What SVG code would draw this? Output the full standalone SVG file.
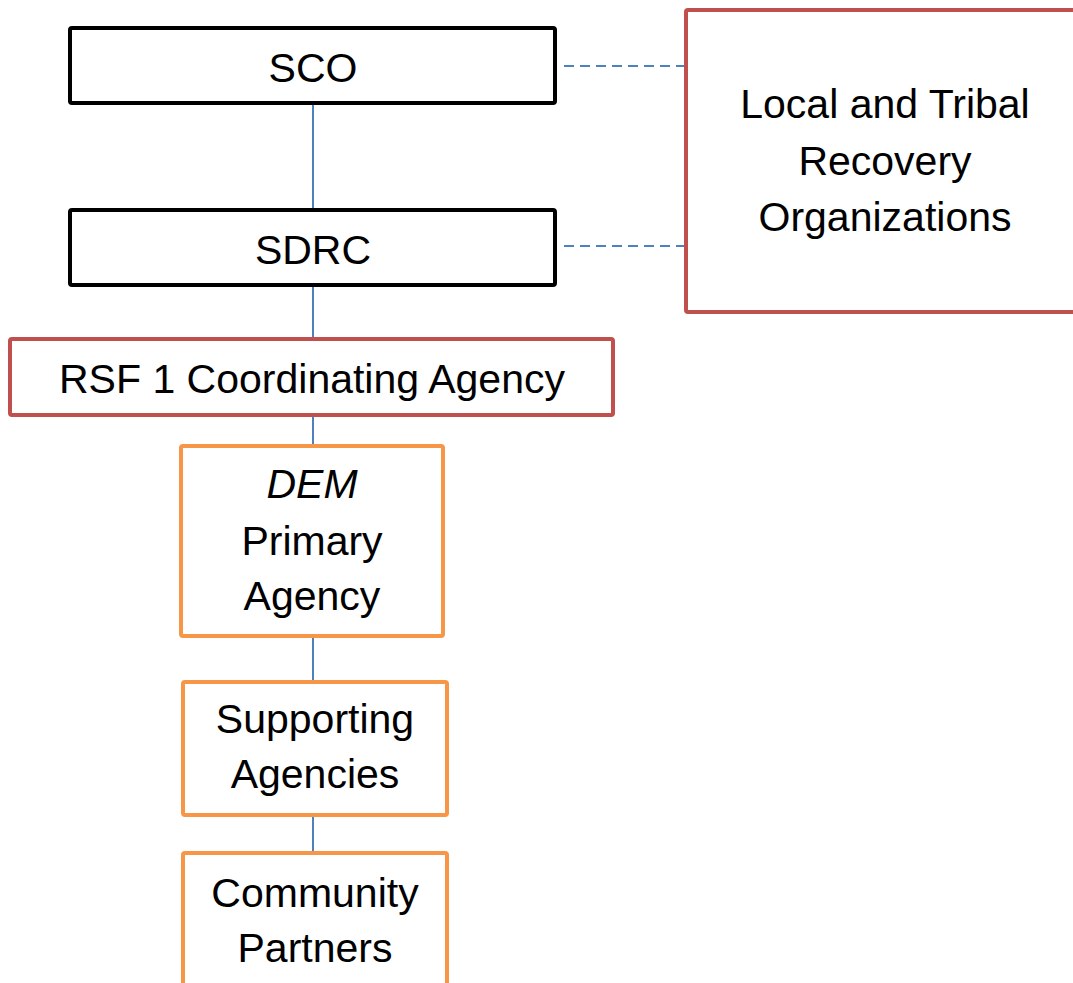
<svg xmlns="http://www.w3.org/2000/svg" width="1073" height="983" viewBox="0 0 1073 983">
<style>
.box{fill:#fff;stroke-width:4;}
.blk{stroke:#000;}
.red{stroke:#C0504D;}
.org{stroke:#F79646;}
.t{font-family:"Liberation Sans",Arial,sans-serif;font-size:41px;fill:#000;text-anchor:middle;}
.ln{stroke:#4F81BD;stroke-width:2;fill:none;}
.dash{stroke:#4F81BD;stroke-width:2;fill:none;stroke-dasharray:10 6;}
</style>
<rect width="1073" height="983" fill="#fff"/>
<g id="connectors">
<line class="ln" x1="313" y1="103" x2="313" y2="210"/>
<line class="ln" x1="313" y1="285" x2="313" y2="339"/>
<line class="ln" x1="313" y1="415" x2="313" y2="446"/>
<line class="ln" x1="313" y1="636" x2="313" y2="682"/>
<line class="ln" x1="313" y1="815" x2="313" y2="853"/>
<line class="dash" x1="686" y1="66" x2="560" y2="66"/>
<line class="dash" x1="686" y1="246" x2="560" y2="246"/>
</g>
<g id="sco">
<rect class="box blk" x="70" y="28" width="485" height="75" rx="2"/>
<text class="t" x="313" y="82">SCO</text>
</g>
<g id="sdrc">
<rect class="box blk" x="70" y="210" width="485" height="75" rx="2"/>
<text class="t" x="313" y="264">SDRC</text>
</g>
<g id="local">
<rect class="box red" x="686" y="10" width="395" height="302" rx="2"/>
<text class="t" x="885" y="118">Local and Tribal</text>
<text class="t" x="885" y="175">Recovery</text>
<text class="t" x="885" y="231">Organizations</text>
</g>
<g id="rsf">
<rect class="box red" x="10" y="339" width="603" height="76" rx="2"/>
<text class="t" x="312" y="393">RSF 1 Coordinating Agency</text>
</g>
<g id="dem">
<rect class="box org" x="181" y="446" width="262" height="190" rx="2"/>
<text class="t" x="312" y="498" font-style="italic">DEM</text>
<text class="t" x="312" y="555">Primary</text>
<text class="t" x="312" y="610">Agency</text>
</g>
<g id="supporting">
<rect class="box org" x="183" y="682" width="264" height="133" rx="2"/>
<text class="t" x="315" y="733">Supporting</text>
<text class="t" x="315" y="788">Agencies</text>
</g>
<g id="community">
<rect class="box org" x="183" y="853" width="264" height="140" rx="2"/>
<text class="t" x="315" y="907">Community</text>
<text class="t" x="315" y="962">Partners</text>
</g>
</svg>
